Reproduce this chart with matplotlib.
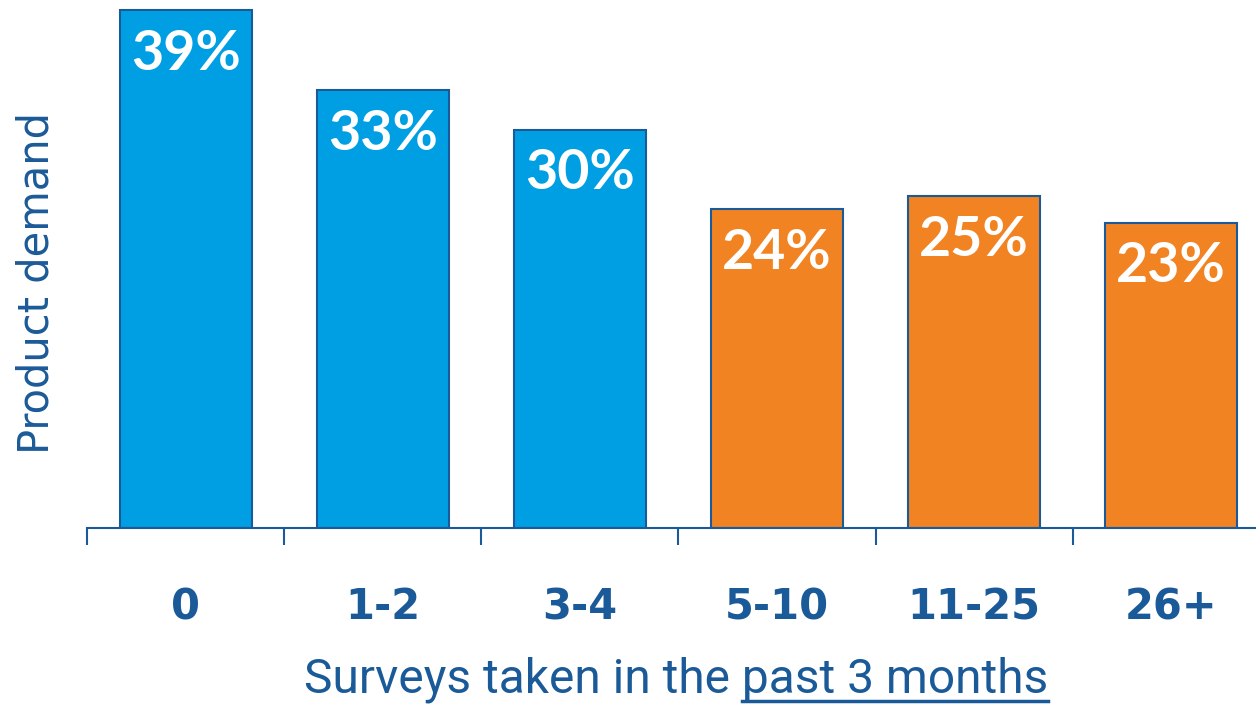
import matplotlib.pyplot as plt
import numpy as np

categories = ['0', '1-2', '3-4', '5-10', '11-25', '26+']
demand = [39, 33, 30, 24, 25, 23]
bar_colors = ['#009fe3', '#009fe3', '#009fe3', '#f28322', '#f28322', '#f28322']

dark_blue = '#1b5a98'

fig = plt.figure(figsize=(12.56, 7.04), dpi=100)
ax = fig.add_axes([87/1256, 0.25, 1 - 87/1256, 0.75])

x = np.arange(len(categories))
bars = ax.bar(x, demand, width=0.67, color=bar_colors, edgecolor=dark_blue, linewidth=1.5)

for b, v in zip(bars, demand):
    ax.text(b.get_x() + b.get_width()/2, v - 3.3, f'{v}%', ha='center', va='center',
            color='white', fontsize=40, fontweight='bold', family='Lato')

# category boundaries carry the tick marks, labels sit at the centres
ax.set_xticks(x)
ax.set_xticklabels(categories, fontsize=30, fontweight='bold', color=dark_blue)
ax.set_xticks(np.arange(-0.5, 5, 1), minor=True)
ax.tick_params(axis='x', which='major', length=0, pad=42)
ax.tick_params(axis='x', which='minor', length=12, width=1.5, color=dark_blue)
ax.set_yticks([])

ax.set_xlim(-0.5, 5.43)
ax.set_ylim(0, 39.76)

for s in ['top', 'right', 'left']:
    ax.spines[s].set_visible(False)
ax.spines['bottom'].set_color(dark_blue)
ax.spines['bottom'].set_linewidth(1.5)

ax.set_ylabel('Product demand', fontsize=30, color=dark_blue)
ax.yaxis.set_label_coords(-0.025, 0.464)

# x title, with the time window underlined
title = 'Surveys taken in the past 3 months'
tail = 'past 3 months'
tx, ty = 676/1256, 1 - 680/704
t = fig.text(tx, ty, title, ha='center', va='center', fontsize=34.5,
             color=dark_blue, family='Roboto')
fig.canvas.draw()
r = fig.canvas.get_renderer()
bb = t.get_window_extent(r)
t2 = fig.text(0, 0, tail, fontsize=34.5, family='Roboto')
w2 = t2.get_window_extent(r).width
t2.remove()
x1 = bb.x1 / fig.bbox.width
x0 = (bb.x1 - w2) / fig.bbox.width
uy = 1 - 701/704
fig.add_artist(plt.Line2D([x0, x1], [uy, uy], transform=fig.transFigure,
                          color=dark_blue, linewidth=2.5))

fig.savefig('out.png', dpi=100)
